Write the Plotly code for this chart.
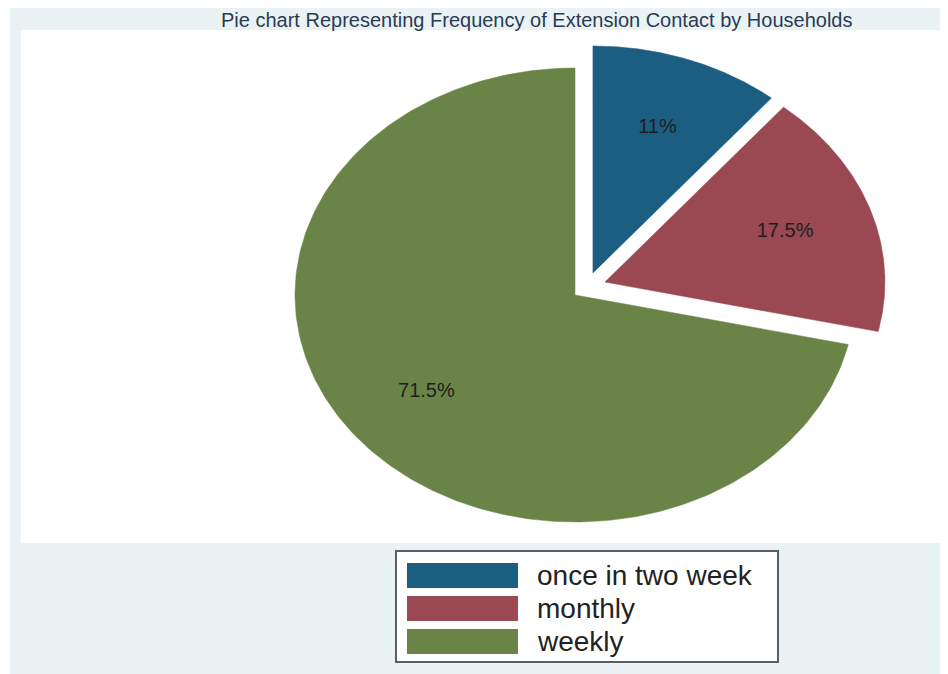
import numpy as np
import plotly.graph_objects as go

# ---- data ----
categories = ["once in two week", "monthly", "weekly"]
values = [11, 17.5, 71.5]
slice_labels = [f"{v:g}%" for v in values]
title_text = "Pie chart Representing Frequency of Extension Contact by Households"

# ---- style ----
colors = ["#1c5d82", "#9a4851", "#6a8447"]
explode = [(0.064, 0.097), (0.107, 0.057), (0.0, 0.0)]  # offsets in radius units
VW, VH = 948, 674          # browser window
OFF = 8                    # default page body margin
W, H = VW - OFF, VH - OFF  # figure size
CX, CY, RX, RY = 575, 295, 280, 227  # pie centre / radii in window pixels
LABEL_R = 0.68
FONT = "Liberation Sans, Arial, sans-serif"


def px(x):
    return (x - OFF) / W


def py(y):
    return 1 - (y - OFF) / H


fig = go.Figure()

total = float(sum(values))
cum = 0.0
lab_x, lab_y = [], []
for cat, v, col, (dx, dy) in zip(categories, values, colors, explode):
    a0 = 90 - cum / total * 360.0
    a1 = a0 - v / total * 360.0
    cum += v
    th = np.radians(np.linspace(a0, a1, 240))
    xs = np.concatenate([[dx], dx + np.cos(th), [dx]])
    ys = np.concatenate([[dy], dy + np.sin(th), [dy]])
    fig.add_trace(go.Scatter(
        x=xs, y=ys, mode="lines", fill="toself", fillcolor=col,
        line=dict(color=col, width=0.5), name=cat, showlegend=False,
        hoverinfo="name"))
    mid = np.radians((a0 + a1) / 2)
    lab_x.append(dx + LABEL_R * np.cos(mid))
    lab_y.append(dy + LABEL_R * np.sin(mid))

fig.add_trace(go.Scatter(
    x=lab_x, y=lab_y, mode="text", text=slice_labels,
    textfont=dict(family=FONT, size=20, color="#1e1e1e"),
    showlegend=False, hoverinfo="skip"))

shapes = [
    # outer light panel
    dict(type="rect", xref="paper", yref="paper", x0=px(10), x1=1, y0=0, y1=1,
         fillcolor="#eaf3f4", line=dict(width=0), layer="below"),
    # white plot region
    dict(type="rect", xref="paper", yref="paper", x0=px(21), x1=1, y0=py(543), y1=py(30),
         fillcolor="#ffffff", line=dict(width=0), layer="below"),
    # legend box
    dict(type="rect", xref="paper", yref="paper", x0=px(396), x1=px(778),
         y0=py(662), y1=py(551),
         fillcolor="#ffffff", line=dict(color="#5a5f63", width=2), layer="below"),
]
annotations = [
    dict(text=title_text, xref="paper", yref="paper", x=px(220), y=1,
         xanchor="left", yanchor="top", showarrow=False, borderpad=0,
         font=dict(family=FONT, size=20, color="#2b3a55")),
]
row_tops = [563, 596, 629]
for cat, col, top in zip(categories, colors, row_tops):
    shapes.append(dict(type="rect", xref="paper", yref="paper", x0=px(407), x1=px(518),
                       y0=py(top + 25), y1=py(top),
                       fillcolor=col, line=dict(width=0), layer="below"))
    annotations.append(dict(text=cat, xref="paper", yref="paper", x=px(535),
                            y=py(top + 12.5), xanchor="left", yanchor="middle",
                            showarrow=False,
                            font=dict(family=FONT, size=28, color="#222222")))

fig.update_layout(
    width=W, height=H, autosize=False,
    margin=dict(l=0, r=0, t=0, b=0, pad=0),
    paper_bgcolor="#ffffff", plot_bgcolor="rgba(0,0,0,0)",
    xaxis=dict(range=[(OFF - CX) / RX, (OFF + W - CX) / RX], visible=False, fixedrange=True),
    yaxis=dict(range=[(CY - OFF - H) / RY, (CY - OFF) / RY], visible=False, fixedrange=True),
    shapes=shapes, annotations=annotations, showlegend=False,
)

fig.write_html("out.html")
